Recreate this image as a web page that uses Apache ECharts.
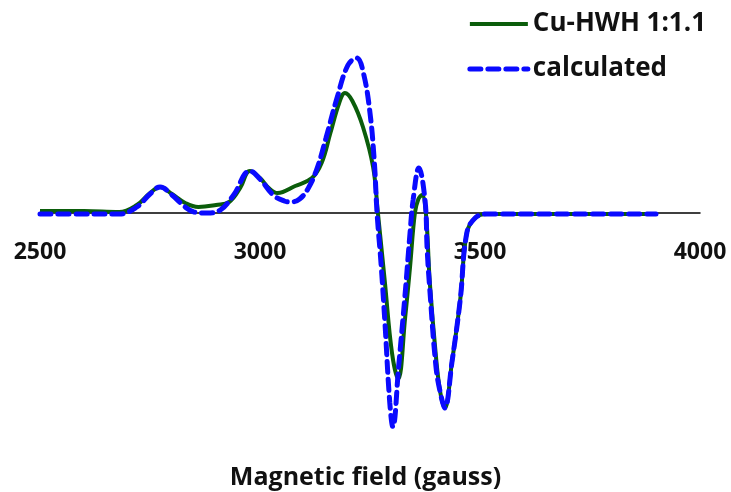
<!DOCTYPE html>
<html>
<head>
<meta charset="utf-8">
<script src="https://cdn.jsdelivr.net/npm/echarts@6/dist/echarts.min.js"></script>
<style>
  html, body { margin: 0; padding: 0; background: #ffffff; }
  #chart { width: 731px; height: 492px; }
</style>
</head>
<body>
<div id="chart"></div>
<script>
// EPR spectrum: measured Cu-HWH 1:1.1 vs. simulated curve (field in gauss, arbitrary intensity)
var fieldMeasured = [2500, 2600, 2680, 2720, 2750, 2773, 2800, 2830, 2860, 2900, 2930, 2955, 2977, 3000, 3020, 3040, 3080, 3118, 3140, 3160, 3180, 3193, 3210, 3234, 3257, 3268, 3284, 3300, 3314, 3330, 3341, 3352, 3360, 3368, 3377, 3386, 3400, 3410, 3420, 3436, 3455, 3470, 3489, 3516, 3600, 3750, 3900];
var intensityMeasured = [2, 2, 1, 8, 20, 26, 19, 10, 6, 8, 11, 25, 42, 35, 25, 20, 27, 35, 50, 80, 110, 120, 112, 86, 46, 0, -70, -140, -166, -104, -54, 0, 14, 18, 0, -70, -144, -180, -195, -150, -87, -20, -5, -1, -1, -1, -1];

var fieldCalc = [2500, 2600, 2680, 2720, 2750, 2773, 2800, 2830, 2850, 2880, 2910, 2940, 2977, 3000, 3030, 3055, 3070, 3090, 3110, 3130, 3150, 3175, 3200, 3220, 3235, 3250, 3260, 3266, 3275, 3284, 3295, 3302, 3315, 3330, 3341, 3348, 3361, 3375, 3380, 3386, 3400, 3410, 3420, 3436, 3455, 3470, 3489, 3516, 3600, 3750, 3900];
var intensityCalc = [-1, -1, -1, 6, 19, 26, 18, 6, 1, 0, 3, 18, 42, 34, 18, 12, 11, 14, 25, 45, 75, 115, 148, 155, 140, 100, 50, 0, -50, -110, -190, -214, -154, -80, -20, 13, 45, 13, -37, -77, -154, -180, -195, -150, -87, -20, -5, -1, -1, -1, -1];

var xTicks = { min: 2500, max: 4000, step: 500 };
var yRange = { min: -240, max: 200 };
var seriesNames = ['Cu-HWH 1:1.1', 'calculated'];
var axisTitle = 'Magnetic field (gauss)';

var greenColor = '#0b5d0b';
var blueColor = '#0a0aff';

function pairs(xs, ys) {
  return xs.map(function (x, i) { return [x, ys[i]]; });
}

var chart = echarts.init(document.getElementById('chart'), null, { renderer: 'canvas' });
var fontFam = '"Open Sans", "Noto Sans", sans-serif';

var gridTop = 13, gridBottom = 39, chartH = 492;
// place the field axis on the zero line of the intensity scale
var plotH = chartH - gridTop - gridBottom;
var zeroFromBottom = plotH * (0 - yRange.min) / (yRange.max - yRange.min);

chart.setOption({
  animation: false,
  backgroundColor: '#ffffff',
  grid: { left: 40, right: 31, top: gridTop, bottom: gridBottom, containLabel: false },
  legend: {
    orient: 'vertical',
    right: 20,
    top: 6,
    itemWidth: 58,
    itemHeight: 14,
    itemGap: 19,
    itemStyle: { opacity: 0 },
    textStyle: { fontFamily: fontFam, fontWeight: 'bold', fontSize: 26, color: '#111111' },
    data: [
      { name: seriesNames[0], lineStyle: { color: greenColor, width: 4, type: 'solid' } },
      { name: seriesNames[1], lineStyle: { color: blueColor, width: 5, type: [11, 7] } }
    ]
  },
  xAxis: {
    type: 'value',
    min: xTicks.min,
    max: xTicks.max,
    interval: xTicks.step,
    position: 'bottom',
    offset: -zeroFromBottom,
    axisLine: { onZero: false, lineStyle: { color: '#000000', width: 1.5 } },
    axisTick: { show: false },
    splitLine: { show: false },
    axisLabel: {
      margin: 28,
      fontFamily: fontFam,
      fontWeight: 'bold',
      fontSize: 23,
      color: '#111111',
      formatter: function (v) { return String(v); }
    }
  },
  yAxis: {
    type: 'value',
    min: yRange.min,
    max: yRange.max,
    show: false,
    splitLine: { show: false }
  },
  graphic: [{
    type: 'text',
    left: 'center',
    top: 465,
    style: { text: axisTitle, font: 'bold 25px ' + fontFam, fill: '#111111' }
  }],
  series: [
    {
      name: seriesNames[0],
      type: 'line',
      data: pairs(fieldMeasured, intensityMeasured),
      smooth: 0.4,
      symbol: 'none',
      lineStyle: { color: greenColor, width: 4 },
      itemStyle: { color: greenColor },
      z: 2
    },
    {
      name: seriesNames[1],
      type: 'line',
      data: pairs(fieldCalc, intensityCalc),
      smooth: 0.4,
      symbol: 'none',
      lineStyle: { color: blueColor, width: 5, type: [11, 7], cap: 'round' },
      itemStyle: { color: blueColor },
      z: 3
    }
  ]
});
</script>
</body>
</html>
